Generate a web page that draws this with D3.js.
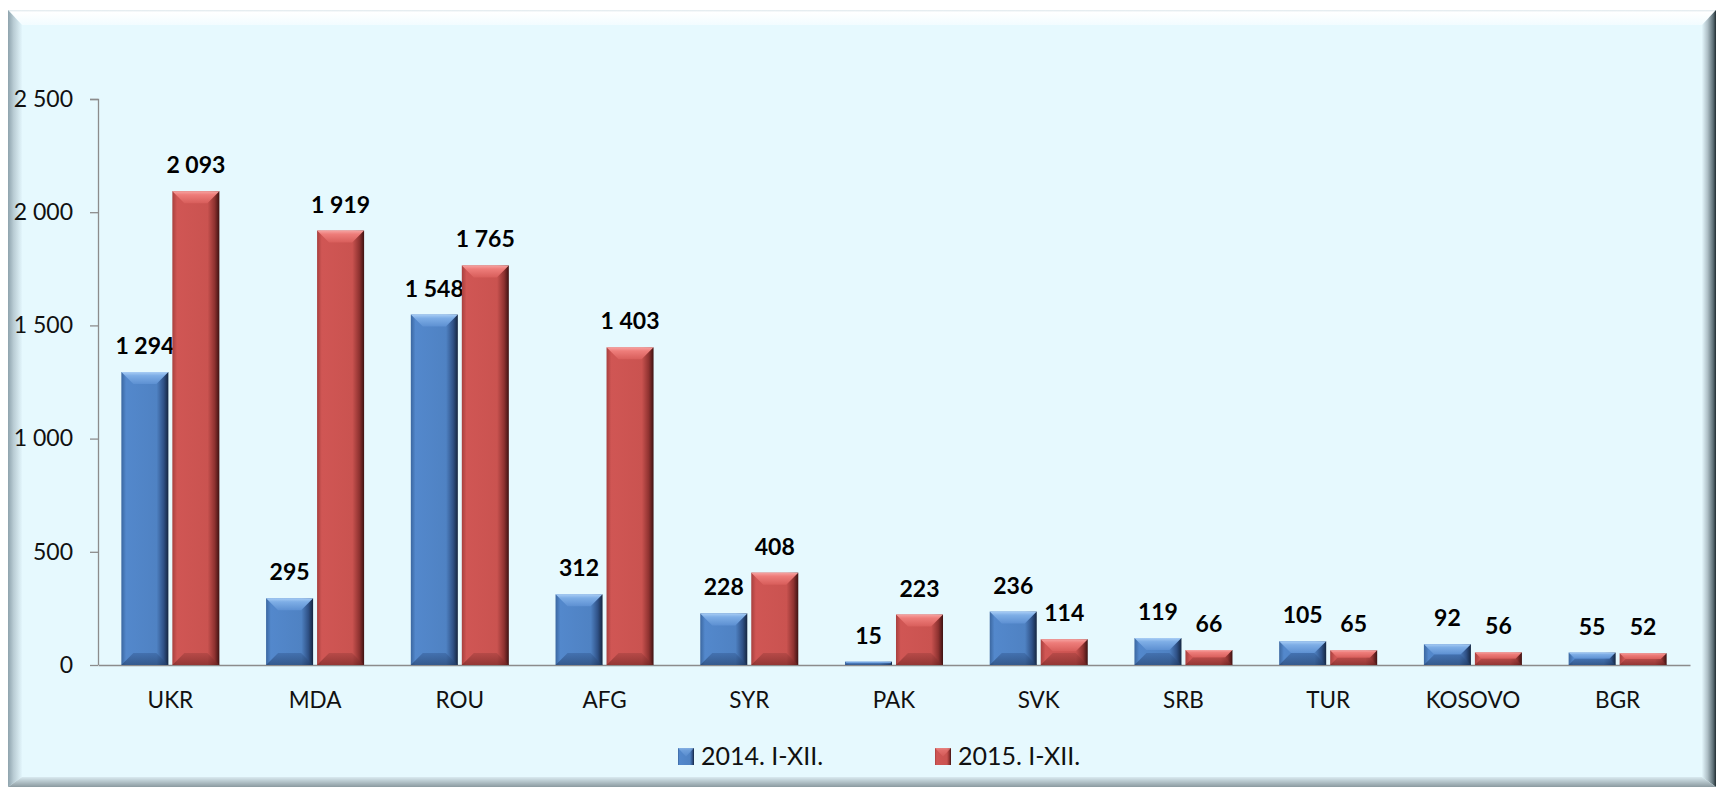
<!DOCTYPE html>
<html><head><meta charset="utf-8">
<script src="https://cdn.jsdelivr.net/npm/d3@7/dist/d3.min.js"></script>
<style>body{margin:0;background:#fff}svg{display:block}text{font-family:Lato,"Open Sans",sans-serif}</style>
</head><body>
<svg id="c" width="1722" height="792"></svg>
<script>
const categories = ["UKR","MDA","ROU","AFG","SYR","PAK","SVK","SRB","TUR","KOSOVO","BGR"];
const seriesNames = ["2014. I-XII.","2015. I-XII."];
const values2014 = [1294,295,1548,312,228,15,236,119,105,92,55];
const values2015 = [2093,1919,1765,1403,408,223,114,66,65,56,52];
const yTicks = [0,500,1000,1500,2000,2500];

const svg = d3.select("#c");
const defs = svg.append("defs");
const fmt = d3.formatLocale({decimal:",",thousands:"\u00a0",grouping:[3],currency:["",""]}).format(",d");

function lin(id, stops, x2, y2){
  const g = defs.append("linearGradient").attr("id",id).attr("x1",0).attr("y1",0).attr("x2",x2).attr("y2",y2);
  stops.forEach(s=>g.append("stop").attr("offset",s[0]).attr("stop-color",s[1]));
}
// frame gradients
lin("fTop",[[0,"#dfe8ec"],[0.15,"#ffffff"],[1,"#f2fcff"]],0,1);
lin("fLeft",[[0,"#8ea3ad"],[0.4,"#b9ccd4"],[1,"#e3f6fc"]],1,0);
lin("fRight",[[0,"#e3f6fc"],[0.4,"#aebfc6"],[0.8,"#5d6f76"],[1,"#222e33"]],1,0);
lin("fBottom",[[0,"#d9eaf0"],[1,"#8b9aa0"]],0,1);
// bar gradients
lin("bBlue",[[0,"#3b67a0"],[0.1,"#5388cc"],[0.75,"#4f82c3"],[0.9,"#2f5186"],[1,"#152640"]],1,0);
lin("tBlue",[[0,"#a8cdf5"],[0.3,"#7eaee6"],[1,"#5d90d2"]],0,1);
lin("dBlue",[[0,"#3a64a0"],[1,"#223d66"]],0,1);
lin("bRed",[[0,"#a8403e"],[0.1,"#d05654"],[0.75,"#ca5350"],[0.9,"#8e3230"],[1,"#3e1212"]],1,0);
lin("tRed",[[0,"#f6a4a2"],[0.3,"#ee7d7a"],[1,"#d85e5b"]],0,1);
lin("dRed",[[0,"#a84341"],[1,"#6e2422"]],0,1);

// frame
const X0=8,Y0=10,X1=1716,Y1=787,BT=15,BL=14,BR=14,BB=10;
svg.append("rect").attr("x",X0).attr("y",Y0).attr("width",X1-X0).attr("height",Y1-Y0).attr("fill","#e6f9fe");
const poly=(pts,fill)=>svg.append("polygon").attr("points",pts.map(p=>p.join(",")).join(" ")).attr("fill",fill);
poly([[X0,Y0],[X1,Y0],[X1-BR,Y0+BT],[X0+BL,Y0+BT]],"url(#fTop)");
poly([[X0,Y0],[X0+BL,Y0+BT],[X0+BL,Y1-BB],[X0,Y1]],"url(#fLeft)");
poly([[X1,Y0],[X1-BR,Y0+BT],[X1-BR,Y1-BB],[X1,Y1]],"url(#fRight)");
poly([[X0,Y1],[X0+BL,Y1-BB],[X1-BR,Y1-BB],[X1,Y1]],"url(#fBottom)");

// scales
const x = d3.scaleBand().domain(categories).range([98,1690]).padding(0);
const xs = d3.scaleBand().domain(seriesNames).range([0,x.bandwidth()]).paddingInner(0.078).paddingOuter(0.458);
const y = d3.scaleLinear().domain([0,2500]).range([665,99]);

// y axis
const ya = svg.append("g").attr("transform","translate(98,0)")
  .call(d3.axisLeft(y).tickValues(yTicks).tickSize(8).tickPadding(17).tickFormat(fmt));
ya.select(".domain").attr("stroke","#8c8c8c").attr("stroke-width",1.3).attr("d","M-8,99.5H0.5V665");
ya.selectAll(".tick line").attr("stroke","#8c8c8c").attr("stroke-width",1.3);
ya.selectAll(".tick text").attr("font-size",23).attr("fill","#111").style("font-family","Lato");

// x axis
const xa = svg.append("g").attr("transform","translate(0,665)")
  .call(d3.axisBottom(x).tickSize(0).tickPadding(27));
xa.select(".domain").attr("stroke","#8c8c8c").attr("stroke-width",1.5);
xa.selectAll(".tick text").attr("font-size",22.5).attr("fill","#111").style("font-family","Lato");

// bars
const data = [];
categories.forEach((c,i)=>{
  data.push({c, s:seriesNames[0], v:values2014[i], k:"Blue"});
  data.push({c, s:seriesNames[1], v:values2015[i], k:"Red"});
});
const g = svg.append("g");
data.forEach(d=>{
  const bx = x(d.c)+xs(d.s), w = xs.bandwidth(), top = y(d.v), bot = y(0), h = bot-top;
  const b = Math.min(12, h/2);
  const gg = g.append("g");
  gg.append("rect").attr("x",bx).attr("y",top).attr("width",w).attr("height",h).attr("fill",`url(#b${d.k})`);
  gg.append("polygon").attr("points",[[bx,top],[bx+w,top],[bx+w-b,top+b],[bx+b,top+b]].map(p=>p.join(",")).join(" ")).attr("fill",`url(#t${d.k})`);
  gg.append("polygon").attr("points",[[bx,bot],[bx+w,bot],[bx+w-b,bot-b],[bx+b,bot-b]].map(p=>p.join(",")).join(" ")).attr("fill",`url(#d${d.k})`).attr("opacity",0.6);
  g.append("text").attr("x",bx+w/2).attr("y",top-18).attr("text-anchor","middle")
    .attr("font-size",23).attr("font-weight","bold").attr("fill","#000").text(fmt(d.v));
});

// legend
const lg = svg.append("g");
const legX = [678,935];
seriesNames.forEach((s,i)=>{
  const k = i===0?"Blue":"Red";
  const lx = legX[i];
  lg.append("rect").attr("x",lx).attr("y",748).attr("width",16).attr("height",17).attr("fill",`url(#b${k})`);
  lg.append("polygon").attr("points",[[lx,748],[lx+16,748],[lx+8,756.5]].map(p=>p.join(",")).join(" ")).attr("fill",`url(#t${k})`).attr("opacity",0.6);
  lg.append("text").attr("x",lx+23).attr("y",765).attr("font-size",25).attr("fill","#111").text(s);
});
</script>
</body></html>
